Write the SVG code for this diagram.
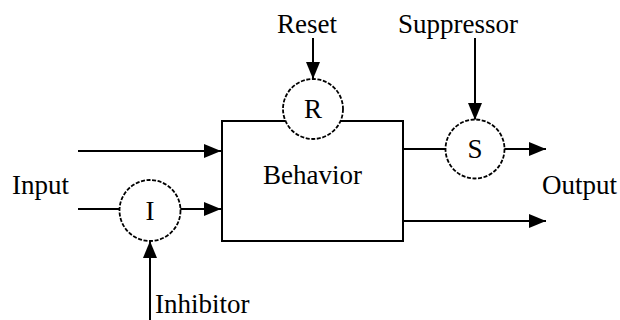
<svg xmlns="http://www.w3.org/2000/svg" width="620" height="320" viewBox="0 0 620 320">
<style>
text{font-family:"Liberation Serif","Times New Roman",serif;font-size:27px;fill:#000}
.ln{stroke:#000;stroke-width:2;fill:none}
.box{stroke:#000;stroke-width:2;fill:#fff}
.gate{stroke:#000;stroke-width:1.8;stroke-dasharray:4 1.6;fill:#fff}
.mid{text-anchor:middle}
</style>
<defs>
<marker id="ah" markerUnits="userSpaceOnUse" markerWidth="18" markerHeight="14" refX="17" refY="7" orient="auto">
<path d="M0,0 L17,7 L0,14 z" fill="#000"/>
</marker>
</defs>
<rect width="620" height="320" fill="#fff"/>
<g id="behavior">
<rect class="box" x="222" y="121" width="181" height="120"/>
<text x="263" y="184">Behavior</text>
</g>
<g id="connectors">
<line class="ln" x1="78" y1="151" x2="221" y2="151" marker-end="url(#ah)"/>
<line class="ln" x1="78" y1="209" x2="120" y2="209"/>
<line class="ln" x1="180" y1="209" x2="221" y2="209" marker-end="url(#ah)"/>
<line class="ln" x1="150" y1="320" x2="150" y2="241" marker-end="url(#ah)"/>
<line class="ln" x1="313" y1="38" x2="313" y2="79" marker-end="url(#ah)"/>
<line class="ln" x1="475" y1="38" x2="475" y2="120" marker-end="url(#ah)"/>
<line class="ln" x1="403" y1="149" x2="446" y2="149"/>
<line class="ln" x1="504" y1="149" x2="546" y2="149" marker-end="url(#ah)"/>
<line class="ln" x1="403" y1="221" x2="546" y2="221" marker-end="url(#ah)"/>
<text x="277" y="33">Reset</text>
<text x="398" y="33">Suppressor</text>
<text x="12" y="194">Input</text>
<text x="542" y="194">Output</text>
<text x="155" y="313">Inhibitor</text>
</g>
<g id="reset-gate">
<circle class="gate" cx="313" cy="109" r="30"/>
<text class="mid" x="313" y="118">R</text>
</g>
<g id="suppressor-gate">
<circle class="gate" cx="475" cy="149" r="29.5"/>
<text class="mid" x="475" y="158">S</text>
</g>
<g id="inhibitor-gate">
<circle class="gate" cx="150" cy="210.5" r="30.5"/>
<text class="mid" x="150" y="220">I</text>
</g>
</svg>
